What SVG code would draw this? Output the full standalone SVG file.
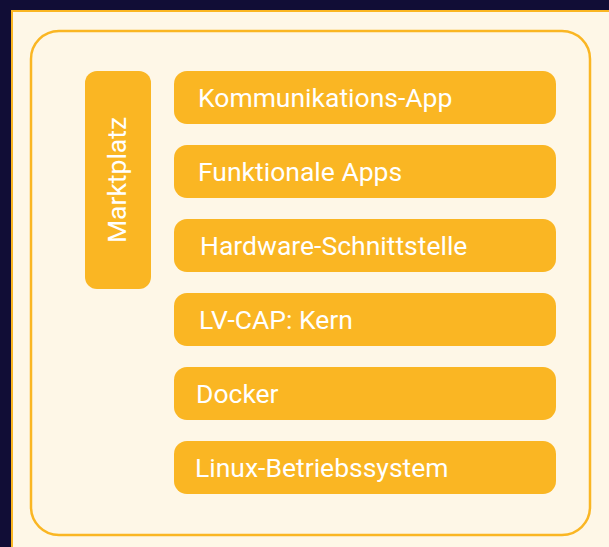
<svg xmlns="http://www.w3.org/2000/svg" width="609" height="547" viewBox="0 0 609 547">
<style>
.box{fill:#FAB623;}
.t{font-family:Roboto,"Liberation Sans",sans-serif;font-size:26.5px;fill:#FFFFFF;}
</style>
<rect x="0" y="0" width="609" height="547" fill="#110D36"/>
<rect x="12" y="11" width="604" height="545" fill="#FEF7E7" stroke="#FAB623" stroke-width="2"/>
<rect x="31" y="31" width="559" height="504" rx="28" fill="none" stroke="#FAB623" stroke-width="2.5"/>
<g id="marktplatz"><rect class="box" x="85" y="71" width="66" height="218" rx="12"/><text class="t" transform="translate(126,180) rotate(-90)" text-anchor="middle">Marktplatz</text></g>
<g id="kommunikation"><rect class="box" x="174" y="71" width="382" height="53" rx="13"/><text class="t" x="198" y="107">Kommunikations-App</text></g>
<g id="funktionale"><rect class="box" x="174" y="145" width="382" height="53" rx="13"/><text class="t" x="198" y="181">Funktionale Apps</text></g>
<g id="hardware"><rect class="box" x="174" y="219" width="382" height="53" rx="13"/><text class="t" x="200" y="255">Hardware-Schnittstelle</text></g>
<g id="kern"><rect class="box" x="174" y="293" width="382" height="53" rx="13"/><text class="t" x="199" y="329">LV-CAP: Kern</text></g>
<g id="docker"><rect class="box" x="174" y="367" width="382" height="53" rx="13"/><text class="t" x="196" y="403">Docker</text></g>
<g id="linux"><rect class="box" x="174" y="441" width="382" height="53" rx="13"/><text class="t" x="195" y="477">Linux-Betriebssystem</text></g>
<g id="connectors"/>
</svg>
